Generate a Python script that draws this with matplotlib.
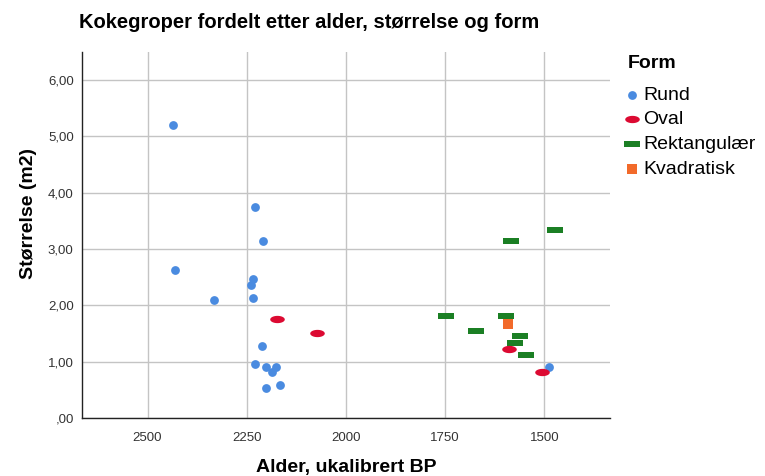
import numpy as np
import matplotlib.pyplot as plt
from matplotlib.path import Path

plt.rcParams['font.family'] = ['Liberation Sans', 'DejaVu Sans']

# Data (alder ukalibrert BP, størrelse m2)
rund_alder = [2436, 2431, 2332, 2229, 2210, 2235, 2239, 2235, 2211, 2228, 2201, 2176, 2187, 2201, 2166, 1488]
rund_str = [5.20, 2.63, 2.10, 3.75, 3.15, 2.47, 2.37, 2.13, 1.28, 0.96, 0.90, 0.90, 0.81, 0.54, 0.59, 0.91]

oval_alder = [2174, 2074, 1589, 1507]
oval_str = [1.76, 1.51, 1.23, 0.82]

rekt_alder = [1474, 1585, 1747, 1597, 1672, 1562, 1574, 1547]
rekt_str = [3.33, 3.15, 1.81, 1.82, 1.55, 1.46, 1.33, 1.11]

kvad_alder = [1593]
kvad_str = [1.67]

yticks = [0, 1, 2, 3, 4, 5, 6]
ytick_labels = [',00', '1,00', '2,00', '3,00', '4,00', '5,00', '6,00']
xticks = [2500, 2250, 2000, 1750, 1500]

# markers
t = np.linspace(0, 2 * np.pi, 60)
ellipse = Path(np.column_stack([np.cos(t), 0.5 * np.sin(t)]))
rect = Path([(-1, -0.45), (1, -0.45), (1, 0.45), (-1, 0.45), (-1, -0.45)], closed=True)
square = Path([(-0.45, -0.5), (0.45, -0.5), (0.45, 0.5), (-0.45, 0.5), (-0.45, -0.5)], closed=True)

fig = plt.figure(figsize=(7.65, 4.76), dpi=100)
ax = fig.add_axes([82 / 765, 1 - 418 / 476, (610 - 82) / 765, (418 - 52) / 476])

h1 = ax.scatter(rund_alder, rund_str, s=40, color='#4a8be0', marker='o', linewidths=0, zorder=3, label='Rund')
h3 = ax.scatter(rekt_alder, rekt_str, s=125, color='#1b7f24', marker=rect, linewidths=0, zorder=3, label='Rektangulær')
h4 = ax.scatter(kvad_alder, kvad_str, s=58, color='#f26a2a', marker=square, linewidths=0, zorder=3, label='Kvadratisk')
h2 = ax.scatter(oval_alder, oval_str, s=110, color='#dc0a32', marker=ellipse, linewidths=0, zorder=4, label='Oval')

ax.set_xlim(2665, 1335)
ax.set_ylim(0, 6.5)
ax.set_xticks(xticks)
ax.set_yticks(yticks)
ax.set_yticklabels(ytick_labels)
ax.grid(True, color='#c4c4c4', linewidth=1)
ax.set_axisbelow(True)
for s in ['top', 'right']:
    ax.spines[s].set_visible(False)
for s in ['left', 'bottom']:
    ax.spines[s].set_color('#222222')
    ax.spines[s].set_linewidth(1)
ax.tick_params(length=0, labelsize=9.5, colors='#333333')
ax.tick_params(axis='x', pad=10)
ax.tick_params(axis='y', pad=6)

ax.set_xlabel('Alder, ukalibrert BP', fontsize=14, fontweight='bold', labelpad=11)
ax.set_ylabel('Størrelse (m2)', fontsize=14, fontweight='bold')
ax.yaxis.set_label_coords(-0.085, 0.56)

fig.text(79 / 765, 1 - 22 / 476, 'Kokegroper fordelt etter alder, størrelse og form',
         fontsize=14.5, fontweight='bold', va='center', ha='left')

# legend title drawn separately to get the larger gap seen in the reference
fig.text(628 / 765, 1 - 63 / 476, 'Form', fontsize=14, fontweight='bold', va='center', ha='left')
leg = fig.legend(handles=[h1, h2, h3, h4], loc='upper left', bbox_to_anchor=(626 / 765, 1 - 86 / 476),
                 frameon=False, fontsize=14, scatterpoints=1, handlelength=0.6, borderpad=0,
                 borderaxespad=0, handletextpad=0.27, labelspacing=0.37)

fig.savefig('out.png', dpi=100, facecolor='white')
